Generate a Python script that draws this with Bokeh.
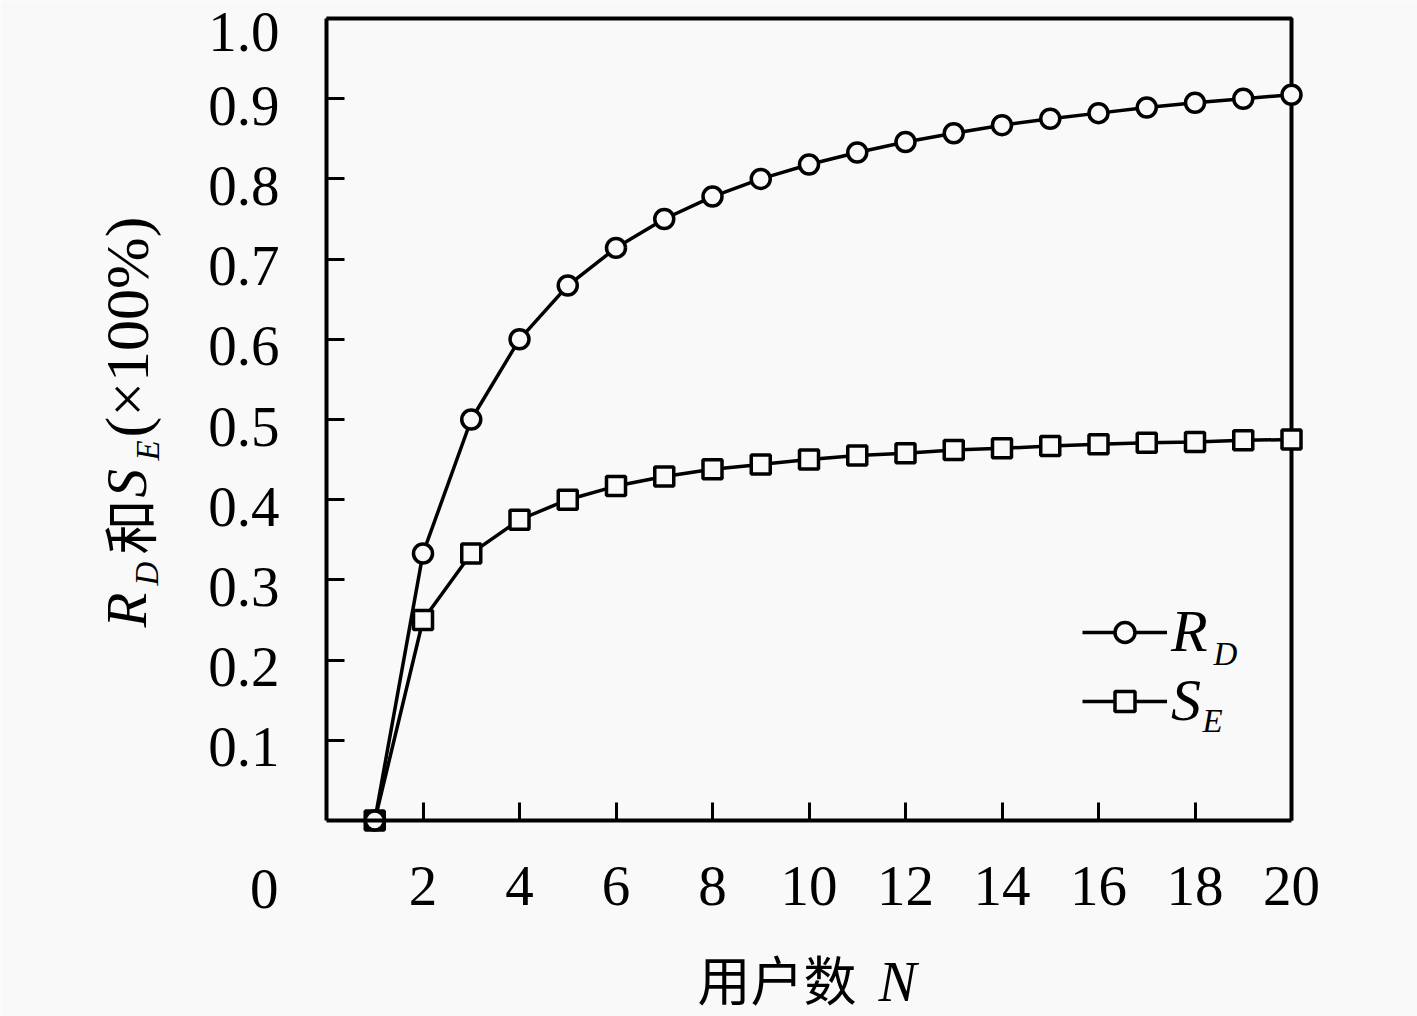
import math
from bokeh.plotting import figure
from bokeh.models import Range1d, FixedTicker, Label, Legend, LegendItem
from bokeh.embed import file_html
from bokeh.resources import INLINE

# ---------------- data ----------------
N = [1, 2, 3, 4, 5, 6, 7, 8, 9, 10, 11, 12, 13, 14, 15, 16, 17, 18, 19, 20]
RD = [0.0, 0.333, 0.5, 0.6, 0.667, 0.714, 0.75, 0.778, 0.8, 0.818,
      0.833, 0.846, 0.857, 0.867, 0.875, 0.882, 0.889, 0.895, 0.9, 0.905]
SE = [0.0, 0.25, 0.333, 0.375, 0.4, 0.417, 0.429, 0.438, 0.444, 0.45,
      0.455, 0.458, 0.462, 0.464, 0.467, 0.469, 0.471, 0.472, 0.474, 0.475]
X_TICKS = [2, 4, 6, 8, 10, 12, 14, 16, 18, 20]
Y_TICKS = [0.1, 0.2, 0.3, 0.4, 0.5, 0.6, 0.7, 0.8, 0.9, 1.0]
Y_TICK_LABELS = ["0.1", "0.2", "0.3", "0.4", "0.5", "0.6", "0.7", "0.8", "0.9", "1.0"]
X_MAX = 20
Y_MAX = 1.0

# ---------------- layout constants ----------------
W, H = 1417, 1016
BG = "#f9f9f9"
SERIF = "Liberation Serif"
CJK = "Noto Sans CJK SC"
AX_LEFT, AX_RIGHT = 326, 1291     # page x of x=0 and x=X_MAX
AX_BOTTOM, AX_TOP = 820, 18       # page y of y=0 and y=Y_MAX
PX_X = (AX_RIGHT - AX_LEFT) / X_MAX
PX_Y = (AX_BOTTOM - AX_TOP) / Y_MAX


def dx(px):
    return (px - AX_LEFT) / PX_X


def dy(py):
    return (AX_BOTTOM - py) / PX_Y


p = figure(width=W, height=H, output_backend="svg", toolbar_location=None,
           x_range=Range1d(dx(0), dx(W)), y_range=Range1d(dy(H), dy(0)),
           min_border=0)
p.background_fill_color = BG
p.border_fill_color = BG
p.outline_line_color = None
p.grid.visible = False

# x axis (drawn at y = 0)
xa = p.xaxis[0]
xa.fixed_location = 0
xa.bounds = (0, X_MAX)
xa.ticker = FixedTicker(ticks=X_TICKS)
xa.axis_line_width = 4
xa.axis_line_color = "black"
xa.major_tick_in = 18
xa.major_tick_out = 0
xa.major_tick_line_width = 3
xa.major_tick_line_color = "black"
xa.minor_tick_line_color = None
xa.major_label_standoff = 46
xa.major_label_text_font = SERIF
xa.major_label_text_font_size = "57px"
xa.major_label_text_color = "black"

# y axis (drawn at x = 0)
ya = p.yaxis[0]
ya.fixed_location = 0
ya.bounds = (0, Y_MAX)
ya.ticker = FixedTicker(ticks=Y_TICKS)
ya.axis_line_width = 4
ya.axis_line_color = "black"
ya.major_tick_in = 18
ya.major_tick_out = 0
ya.major_tick_line_width = 3
ya.major_tick_line_color = "black"
ya.minor_tick_line_color = None
ya.major_label_text_color = None

# top and right frame lines
p.line(x=[0, X_MAX, X_MAX], y=[Y_MAX, Y_MAX, 0], line_color="black", line_width=4)

# series
l_se = p.line(N, SE, line_color="black", line_width=3.5)
s_se = p.scatter(N, SE, marker="square", size=19, line_color="black",
                 line_width=3.5, fill_color=BG)
l_rd = p.line(N, RD, line_color="black", line_width=3.5)
s_rd = p.scatter(N, RD, marker="circle", size=19, line_color="black",
                 line_width=3.5, fill_color=BG)

# legend
legend = Legend(items=[LegendItem(label="R", renderers=[l_rd, s_rd]),
                       LegendItem(label="S", renderers=[l_se, s_se])],
                location=(1082, H - 735), orientation="vertical",
                glyph_width=85, glyph_height=50, label_height=50,
                spacing=0, padding=0, margin=0,
                border_line_color=None, background_fill_alpha=0,
                label_standoff=4, label_text_font=SERIF,
                label_text_color="black",
                label_text_font_style="italic", label_text_font_size="60px")
p.add_layout(legend)


def lab(text, px, py, size, font=SERIF, style="normal", angle=0.0,
        align="left", xo=0, yo=0, xd=None, yd=None):
    # (px, py): start of the text and vertical middle of its glyphs
    p.add_layout(Label(x=dx(px) if xd is None else xd,
                       y=dy(py) if yd is None else yd,
                       x_offset=xo, y_offset=yo,
                       text=text, text_font=font, text_font_size=size,
                       text_font_style=style, angle=angle, angle_units="rad",
                       text_align=align, text_baseline="middle",
                       text_color="black"))


# legend subscripts
lab("D", 1213, 653, "33px", style="italic")
lab("E", 1202, 720, "33px", style="italic")

# y tick labels (the topmost one nudged down so it stays inside the page)
for v, t in zip(Y_TICKS, Y_TICK_LABELS):
    lab(t, 0, 0, "57px", align="right", xd=0, yd=v, xo=-47,
        yo=-13 if v == Y_MAX else -7)

# origin label
lab("0", 0, 0, "57px", align="right", xd=0, yd=0, xo=-48, yo=-68)

# y axis title (rotated, composed)
A = math.pi / 2
lab("R", 126, 627, "57px", style="italic", angle=A)
lab("D", 146, 585, "33px", style="italic", angle=A)
lab("和", 126, 554, "55px", font=CJK, angle=A)
lab("S", 126, 497, "57px", style="italic", angle=A)
lab("E", 147, 460, "33px", style="italic", angle=A)
lab("(×100%)", 126, 437, "62px", angle=A)

# x axis title
lab("用户数", 697, 977, "53px", font=CJK)
lab("N", 878, 981, "57px", style="italic")

open("out.html", "w").write(file_html(p, INLINE))
